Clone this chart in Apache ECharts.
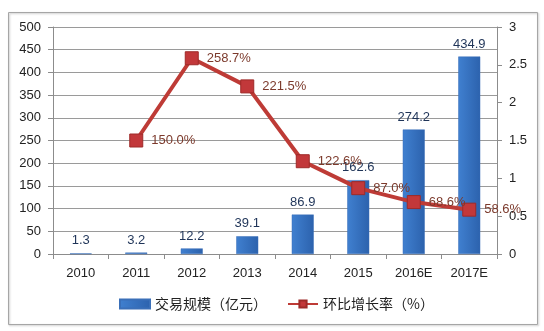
<!DOCTYPE html>
<html>
<head>
<meta charset="utf-8">
<script src="https://cdn.jsdelivr.net/npm/echarts@6/dist/echarts.min.js"></script>
<style>
  html, body { margin: 0; padding: 0; background: #fff; }
  #chart { width: 544px; height: 331px; }
</style>
</head>
<body>
<div id="chart"></div>
<script>
// Categories and series
var years = ['2010', '2011', '2012', '2013', '2014', '2015', '2016E', '2017E'];
var volume = [1.3, 3.2, 12.2, 39.1, 86.9, 162.6, 274.2, 434.9];          // 交易规模（亿元）
var growth = [null, 1.500, 2.587, 2.215, 1.226, 0.870, 0.686, 0.586];      // 环比增长率
var volumeName = '交易规模（亿元）';
var growthName = '环比增长率（%）';

var numFont = '"Liberation Sans", "DejaVu Sans", sans-serif';
var cjkFont = '"Noto Sans CJK SC", sans-serif';

var chart = echarts.init(document.getElementById('chart'));
chart.setOption({
  animation: false,
  backgroundColor: '#ffffff',
  graphic: [{
    type: 'rect',
    shape: { x: 8.5, y: 12.5, width: 529, height: 312 },
    style: { fill: 'none', stroke: '#a6a6a6', lineWidth: 1, shadowColor: 'rgba(0,0,0,0.25)', shadowBlur: 2, shadowOffsetX: 1, shadowOffsetY: 1 },
    silent: true
  }],
  grid: { left: 53, right: 47, top: 27, bottom: 77 },
  legend: {
    left: 114, top: 292,
    itemWidth: 30, itemHeight: 9, itemGap: 20,
    textStyle: { fontFamily: cjkFont, fontSize: 14, color: '#222' },
    data: [
      { name: volumeName, icon: 'rect' },
      { name: growthName }
    ]
  },
  xAxis: {
    type: 'category',
    data: years,
    axisLine: { lineStyle: { color: '#8c8c8c' } },
    axisTick: { show: true, length: 5, lineStyle: { color: '#8c8c8c' } },
    axisLabel: { fontFamily: numFont, fontSize: 13, color: '#222', margin: 13 }
  },
  yAxis: [{
    type: 'value', min: 0, max: 500, interval: 50,
    axisLine: { show: true, lineStyle: { color: '#8c8c8c' } },
    axisTick: { show: true, length: 5, lineStyle: { color: '#8c8c8c' } },
    axisLabel: { fontFamily: numFont, fontSize: 13, color: '#222', margin: 12 },
    splitLine: { lineStyle: { color: '#9a9a9a' } }
  }, {
    type: 'value', min: 0, max: 3, interval: 0.5,
    axisLine: { show: true, lineStyle: { color: '#8c8c8c' } },
    axisTick: { show: true, length: 5, lineStyle: { color: '#8c8c8c' } },
    axisLabel: { fontFamily: numFont, fontSize: 13, color: '#222', margin: 12 },
    splitLine: { show: false }
  }],
  series: [{
    name: volumeName,
    type: 'bar',
    yAxisIndex: 0,
    data: volume,
    barWidth: 22,
    itemStyle: {
      color: new echarts.graphic.LinearGradient(0, 0, 1, 0, [
        { offset: 0, color: '#4080d0' },
        { offset: 1, color: '#2c62ad' }
      ]),
      borderColor: '#3a6fb8', borderWidth: 0.5
    },
    label: {
      show: true, position: 'top', distance: 6,
      fontFamily: numFont, fontSize: 13, color: '#1f3458',
      formatter: function (p) { return p.value.toFixed(1); }
    }
  }, {
    name: growthName,
    type: 'line',
    yAxisIndex: 1,
    data: growth,
    symbol: 'rect',
    symbolSize: 13,
    lineStyle: { color: '#be3b36', width: 4 },
    itemStyle: { color: '#c2383a', borderColor: '#9e2a28', borderWidth: 1 },
    label: {
      show: true, position: 'right', distance: 8,
      fontFamily: numFont, fontSize: 13, color: '#7c3a2c',
      formatter: function (p) { return (p.value * 100).toFixed(1) + '%'; }
    },
    z: 5
  }]
});
</script>
</body>
</html>
